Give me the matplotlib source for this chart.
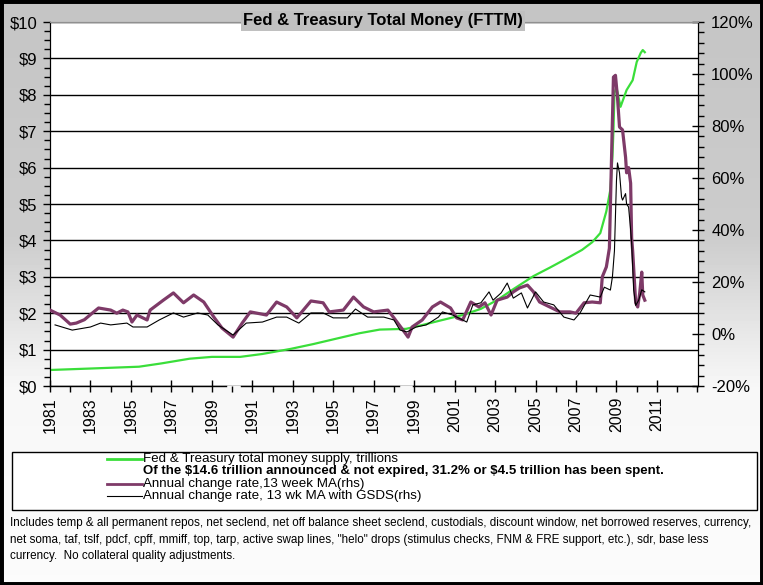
import numpy as np
import matplotlib.pyplot as plt
from matplotlib.lines import Line2D
from matplotlib.patches import Rectangle
from matplotlib.ticker import MultipleLocator, FuncFormatter

# Fed & Treasury total money, trillions of dollars (left axis)
money_years = [1981.0, 1983.0, 1985.4, 1986.5, 1987.9, 1989.0, 1990.4, 1991.5, 1992.9,
               1994.0, 1995.3, 1996.3, 1997.3, 1998.6, 1999.3, 2000.3, 2001.4, 2002.3,
               2003.1, 2003.9, 2004.9, 2005.7, 2006.4, 2007.3, 2007.8, 2008.2, 2008.5,
               2008.7, 2008.8, 2008.85, 2008.9, 2009.0, 2009.2, 2009.5, 2009.8, 2010.0,
               2010.2, 2010.3, 2010.4]
money_tril = [0.44, 0.48, 0.53, 0.62, 0.75, 0.80, 0.80, 0.88, 1.02,
              1.15, 1.32, 1.45, 1.55, 1.57, 1.66, 1.80, 1.95, 2.12,
              2.36, 2.66, 3.02, 3.25, 3.46, 3.74, 3.95, 4.20, 4.80,
              5.40, 6.30, 7.00, 8.05, 8.20, 7.67, 8.13, 8.40, 8.90,
              9.15, 9.23, 9.17]

# annual change rate, 13 week MA (right axis, %)
ma_years = [1981.0, 1981.5, 1982.0, 1982.3, 1982.7, 1983.1, 1983.4, 1984.0, 1984.3, 1984.6,
            1984.85, 1985.05, 1985.3, 1985.8, 1985.95, 1986.6, 1987.1, 1987.6, 1988.1, 1988.6,
            1989.1, 1989.5, 1990.05, 1990.5, 1990.9, 1991.7, 1992.2, 1992.7, 1993.2, 1993.9,
            1994.5, 1994.8, 1995.5, 1996.0, 1996.5, 1997.0, 1997.7, 1998.0, 1998.45, 1998.7,
            1998.9, 1999.4, 1999.9, 2000.3, 2000.8, 2001.1, 2001.4, 2001.8, 2002.2, 2002.5,
            2002.8, 2003.1, 2003.6, 2003.9, 2004.2, 2004.6, 2004.9, 2005.2, 2005.7, 2006.2,
            2006.7, 2007.0, 2007.4, 2007.8, 2008.2, 2008.3, 2008.5, 2008.65, 2008.75, 2008.85,
            2008.95, 2009.05, 2009.15, 2009.3, 2009.45, 2009.5, 2009.6, 2009.7, 2009.75, 2009.8,
            2009.95, 2010.05, 2010.15, 2010.25, 2010.3, 2010.4]
ma_pct = [9.2, 7.3, 3.8, 4.2, 5.5, 8.1, 10.0, 9.2, 8.0, 9.2,
          8.5, 4.6, 7.3, 5.4, 9.2, 13.0, 15.8, 12.0, 15.0, 12.3,
          6.5, 2.3, -1.2, 4.2, 8.5, 7.3, 12.3, 10.4, 6.2, 12.7,
          12.0, 8.5, 9.2, 14.2, 10.4, 8.5, 9.2, 6.2, 1.5, -1.2,
          2.7, 5.4, 10.4, 12.3, 10.0, 6.2, 5.4, 12.3, 10.4, 12.0,
          7.3, 13.0, 14.2, 16.2, 17.7, 18.8, 16.2, 12.3, 10.4, 8.5,
          8.5, 8.0, 12.0, 12.3, 12.0, 22.0, 25.8, 33.0, 65.8, 98.8,
          99.5, 91.0, 79.6, 78.5, 68.0, 62.0, 64.0, 58.0, 37.0, 32.0,
          12.0, 10.4, 15.8, 23.8, 15.0, 13.0]

# annual change rate, 13 wk MA with GSDS (right axis, %)
gsds_years = [1981.25, 1982.1, 1983.0, 1983.5, 1984.0, 1984.8, 1985.1, 1985.8, 1986.4, 1987.1,
              1987.6, 1988.3, 1988.8, 1989.3, 1990.05, 1990.7, 1991.5, 1992.2, 1992.7, 1993.3,
              1993.9, 1994.5, 1995.0, 1995.7, 1996.1, 1996.7, 1997.5, 1998.0, 1998.3, 1998.65,
              1999.1, 1999.6, 2000.2, 2000.4, 2000.9, 2001.6, 2001.9, 2002.3, 2002.7, 2002.9,
              2003.3, 2003.6, 2003.9, 2004.3, 2004.6, 2005.0, 2005.4, 2005.9, 2006.4, 2006.9,
              2007.2, 2007.7, 2008.2, 2008.4, 2008.7, 2008.8, 2008.9, 2009.0, 2009.05, 2009.15,
              2009.25, 2009.3, 2009.45, 2009.5, 2009.6, 2009.7, 2009.75, 2009.85, 2009.95, 2010.1,
              2010.25, 2010.4]
gsds_pct = [3.5, 1.5, 2.7, 4.2, 3.5, 4.2, 2.7, 2.7, 5.4, 8.1,
            6.5, 8.1, 7.3, 3.5, -0.4, 4.2, 4.6, 6.5, 6.5, 4.2,
            8.1, 8.1, 6.2, 6.2, 9.6, 6.5, 6.5, 5.4, 1.5, 0.8,
            2.7, 3.5, 6.5, 8.5, 7.3, 4.6, 11.2, 12.0, 16.2, 13.0,
            15.8, 19.6, 13.8, 15.8, 10.0, 16.2, 12.3, 11.2, 6.5, 5.4,
            8.1, 15.0, 14.2, 18.0, 16.9, 22.0, 32.0, 59.0, 65.8, 62.0,
            52.7, 51.5, 54.0, 50.0, 48.8, 40.0, 35.0, 17.0, 11.0, 13.0,
            17.0, 16.2]

year_ticks = list(range(1981, 2012, 2))

title = 'Fed & Treasury Total Money (FTTM)'
legend_labels = ['Fed & Treasury total money supply, trillions',
                 'Annual change rate,13 week MA(rhs)',
                 'Annual change rate, 13 wk MA with GSDS(rhs)']
legend_note = r'Of the \$14.6 trillion announced & not expired, 31.2% or \$4.5 trillion has been spent.'
notes = ('Includes temp & all permanent repos, net seclend, net off balance sheet seclend, custodials, discount window, net borrowed reserves, currency,\n'
         'net soma, taf, tslf, pdcf, cpff, mmiff, top, tarp, active swap lines, "helo" drops (stimulus checks, FNM & FRE support, etc.), sdr, base less\n'
         'currency.  No collateral quality adjustments.')

GREEN = '#3ade3a'
PURPLE = '#7e3a68'

plt.rcParams['font.family'] = ['Liberation Sans', 'DejaVu Sans']

W, H = 763, 585
fig = plt.figure(figsize=(W / 100, H / 100), dpi=100)

# background: gray fading to near white at the bottom
bg = fig.add_axes([0, 0, 1, 1], zorder=-10)
grad = np.concatenate([np.linspace(0.77, 0.80, 60), np.linspace(0.80, 0.97, 40),
                       np.linspace(0.97, 0.985, 50)])[:, None]
bg.imshow(grad, cmap='gray', vmin=0, vmax=1, aspect='auto',
          extent=[0, 1, 0, 1], interpolation='bilinear')
bg.set_axis_off()

def fx(px):
    return px / W

def fy(py):
    return 1 - py / H

ax = fig.add_axes([fx(50), fy(386), fx(648), 364 / H])
ax.set_facecolor('white')
ax2 = ax.twinx()

ax.plot(money_years, money_tril, color=GREEN, lw=1.6, zorder=3)
ax2.plot(ma_years, ma_pct, color=PURPLE, lw=2.3, zorder=3)
ax2.plot(gsds_years, gsds_pct, color='black', lw=0.8, zorder=4)

ax.set_xlim(1981, 2013.03)
ax.set_ylim(0, 10)
ax2.set_ylim(-20, 120)

ax.yaxis.set_major_locator(MultipleLocator(1))
ax.yaxis.set_minor_locator(MultipleLocator(0.25))
ax.yaxis.set_major_formatter(FuncFormatter(lambda v, p: r'\${:.0f}'.format(v)))
ax2.yaxis.set_major_locator(MultipleLocator(20))
ax2.yaxis.set_minor_locator(MultipleLocator(4))
ax2.yaxis.set_major_formatter(FuncFormatter(lambda v, p: '{:.0f}%'.format(v)))
ax.set_xticks(year_ticks)
ax.set_xticklabels([str(y) for y in year_ticks], rotation=90)
ax.xaxis.set_minor_locator(MultipleLocator(1))

ax.grid(axis='y', which='major', color='black', lw=1.0)
ax.set_axisbelow(True)

ax.tick_params(axis='y', which='major', direction='out', length=5, width=1, labelsize=12, pad=4)
ax.tick_params(axis='y', which='minor', direction='out', length=4, width=1)
ax.tick_params(axis='x', which='major', direction='inout', length=8, width=1, labelsize=11.5, pad=4)
ax.tick_params(axis='x', which='minor', direction='out', length=4, width=1)
ax2.tick_params(axis='y', which='major', direction='inout', length=9, width=1, labelsize=12, pad=5)
ax2.tick_params(axis='y', which='minor', direction='out', length=4, width=1)

for a in (ax, ax2):
    a.spines['top'].set_color('#909090')
    a.spines['left'].set_color('black')
    a.spines['right'].set_color('black')
    a.spines['bottom'].set_visible(False)

# bottom axis line with the two small breaks
xt = ax.get_xaxis_transform()
for x0, x1 in [(1981, 1989.7), (1990.45, 1998.25), (1998.95, 2013.03)]:
    ax.plot([x0, x1], [0, 0], color='black', lw=1.0, transform=xt, clip_on=False, zorder=5)

fig.text(fx(383), fy(21), title, ha='center', va='center', fontsize=12, fontweight='bold',
         bbox=dict(boxstyle='square,pad=0.15', fc='#c0c0c0', ec='none'))

# legend box
fig.patches.append(Rectangle((fx(12), fy(510)), fx(745), (510 - 452) / H,
                             transform=fig.transFigure, fc='white', ec='black', lw=1.0))
for y, c, lw, lab in [(459, GREEN, 2.0, legend_labels[0]),
                      (484, PURPLE, 2.0, legend_labels[1]),
                      (496, 'black', 0.8, legend_labels[2])]:
    fig.lines.append(Line2D([fx(107), fx(142)], [fy(y), fy(y)], color=c, lw=lw,
                            transform=fig.transFigure))
    fig.text(fx(143), fy(y), lab, ha='left', va='center', fontsize=9.6)
fig.text(fx(143), fy(471), legend_note, ha='left', va='center', fontsize=9.5, fontweight='bold')

fig.text(fx(10), fy(517), notes, ha='left', va='top', fontsize=8.4, linespacing=1.5)

# outer frame
fig.patches.append(Rectangle((0, 0), 1, 1, transform=fig.transFigure, fill=False,
                             ec='black', lw=5))

fig.savefig('out.png', dpi=100)
